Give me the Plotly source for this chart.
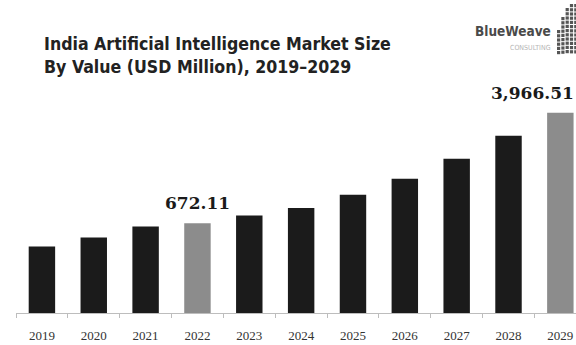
import math
import plotly.graph_objects as go

# India AI market size, USD million
years = ["2019", "2020", "2021", "2022", "2023", "2024",
         "2025", "2026", "2027", "2028", "2029"]
values = [464, 536, 639, 672.11, 763, 860, 1064, 1375, 1896, 2743, 3966.51]
highlight_years = ["2022", "2029"]

W, H = 576, 345
ML, MB, MT, MR = 15.6, 32, 0, 0
PW, PH = W - ML - MR, H - MB - MT


def px_x(px):
    return (px - ML) / PW


def px_y(py):
    return (H - MB - py) / PH


colors = ["#8c8c8c" if y in highlight_years else "#1b1b1b" for y in years]

fig = go.Figure(
    go.Bar(
        x=years,
        y=values,
        marker=dict(color=colors, line=dict(width=0)),
        width=0.51,
        hoverinfo="skip",
    )
)

# value callouts on highlighted bars
# (category axis -> x as index; log axis -> y in log10 units)
for i, (y, v) in enumerate(zip(years, values)):
    if y in highlight_years:
        last = i == len(years) - 1
        fig.add_annotation(
            x=i, y=math.log10(v), xref="x", yref="y",
            text=f"{v:,.2f}",
            showarrow=False, yanchor="middle", yshift=20,
            xanchor="right" if last else "center",
            xshift=16 if last else 0,
            font=dict(family="DejaVu Serif", size=17, color="#1a1a1a", weight="bold"),
        )

# title
fig.add_annotation(
    x=px_x(42), y=px_y(32), xref="paper", yref="paper",
    xanchor="left", yanchor="top", align="left", showarrow=False,
    text="India Artificial Intelligence Market Size<br>By Value (USD Million), 2019\u20132029",
    font=dict(family="DejaVu Sans Condensed", size=17.6, color="#222222", weight="bold"),
)

# logo wordmark
fig.add_annotation(
    x=px_x(553), y=px_y(31), xref="paper", yref="paper",
    xanchor="right", yanchor="middle", showarrow=False,
    text="BlueWeave",
    font=dict(family="DejaVu Sans Condensed", size=13.5, color="#4a4a4a", weight="bold"),
)
fig.add_annotation(
    x=px_x(553), y=px_y(48), xref="paper", yref="paper",
    xanchor="right", yanchor="middle", showarrow=False,
    text="CONSULTING",
    font=dict(family="DejaVu Sans Condensed", size=7, color="#b5b5b5"),
)

# logo dot grid
col_rows = [(6, 30), (9, 17), (11, 8), (12, 4), (12, 4)]
for ci, (n, top) in enumerate(col_rows):
    cx = 557 + ci * 4.3
    for ri in range(n):
        cy = top + ri * 4.2
        if cy > 54:
            break
        fig.add_shape(
            type="rect", xref="paper", yref="paper",
            x0=px_x(cx), x1=px_x(cx + 3.2), y0=px_y(cy + 3.2), y1=px_y(cy),
            fillcolor="#555555", line=dict(width=0), layer="above",
        )

fig.update_layout(
    width=W, height=H,
    margin=dict(l=ML, r=MR, t=MT, b=MB, pad=0),
    paper_bgcolor="white", plot_bgcolor="white",
    showlegend=False,
    bargap=0.49,
    xaxis=dict(
        type="category",
        range=[-0.5, -0.5 + PW / 51.88],
        showline=True, linecolor="#bdbdbd", linewidth=1,
        ticks="outside", tickson="boundaries", ticklen=4, tickcolor="#bdbdbd",
        tickfont=dict(family="Liberation Serif", size=13, color="#333333"),
        ticklabelstandoff=10,
        showgrid=False, zeroline=False, fixedrange=True,
    ),
    yaxis=dict(
        type="log",
        range=[2.2022, 2.2022 + PH / 143.45],
        visible=False, showgrid=False, zeroline=False, fixedrange=True,
    ),
)

fig.write_html("out.html")
